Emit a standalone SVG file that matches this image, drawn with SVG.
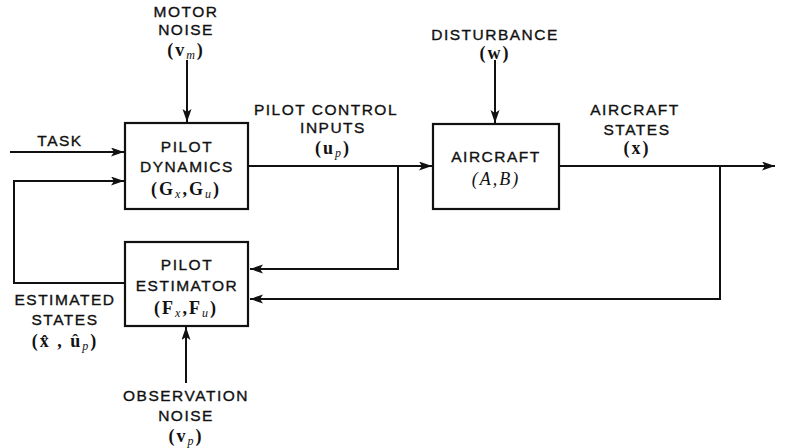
<svg xmlns="http://www.w3.org/2000/svg" width="785" height="448" viewBox="0 0 785 448">
<style>
.t{font-family:"Liberation Sans",Arial,sans-serif;font-size:15.5px;letter-spacing:1.5px;fill:#111;stroke:#111;stroke-width:0.35;text-anchor:middle}
.m{font-family:"Liberation Serif","Times New Roman",serif;font-size:18px;font-weight:bold;fill:#111;text-anchor:middle;letter-spacing:2px}
.i{font-style:italic;font-weight:normal}
.s{font-size:12px}
.box{fill:#fff;stroke:#111;stroke-width:2.2}
.c{fill:none;stroke:#111;stroke-width:2;marker-end:url(#ah)}
</style>
<defs>
<marker id="ah" markerUnits="userSpaceOnUse" markerWidth="14" markerHeight="10" refX="13" refY="4.5" orient="auto">
<path d="M0,0 L13,4.5 L0,9 L3,4.5 z" fill="#111"/>
</marker>
</defs>
<rect width="785" height="448" fill="#fff"/>
<g id="connectors">
<path class="c" d="M187,60 V122"/>
<path class="c" d="M10,152 H124"/>
<path class="c" d="M125,283 H14 V181 H124"/>
<path class="c" d="M248,166 H432"/>
<path class="c" d="M398,166 V269 H250"/>
<path class="c" d="M495,60 V123"/>
<path class="c" d="M559,166 H775"/>
<path class="c" d="M720,166 V299 H250"/>
<path class="c" d="M186,383 V327"/>
</g>
<g id="pilot-dynamics">
<rect class="box" x="125" y="123" width="123" height="86"/>
<text class="t" x="187" y="152">PILOT</text>
<text class="t" x="187" y="172">DYNAMICS</text>
<text class="m" x="186" y="195">(G<tspan class="i s" dy="3">x</tspan><tspan dy="-3">,G</tspan><tspan class="i s" dy="3">u</tspan><tspan dy="-3">)</tspan></text>
</g>
<g id="aircraft">
<rect class="box" x="433" y="124" width="126" height="85"/>
<text class="t" x="496" y="162">AIRCRAFT</text>
<text class="m" x="496" y="185"><tspan class="i">(A,B)</tspan></text>
</g>
<g id="pilot-estimator">
<rect class="box" x="125" y="242" width="123" height="84"/>
<text class="t" x="187" y="270">PILOT</text>
<text class="t" x="187" y="291">ESTIMATOR</text>
<text class="m" x="186" y="314">(F<tspan class="i s" dy="3">x</tspan><tspan dy="-3">,F</tspan><tspan class="i s" dy="3">u</tspan><tspan dy="-3">)</tspan></text>
</g>
<g id="motor-noise">
<text class="t" x="186" y="17">MOTOR</text>
<text class="t" x="186" y="35">NOISE</text>
<text class="m" x="186" y="56">(v<tspan class="i s" dy="3">m</tspan><tspan dy="-3">)</tspan></text>
</g>
<g id="task">
<text class="t" x="60" y="146">TASK</text>
</g>
<g id="pilot-control-inputs">
<text class="t" x="326" y="115">PILOT CONTROL</text>
<text class="t" x="333" y="133">INPUTS</text>
<text class="m" x="333" y="154">(u<tspan class="i s" dy="3">p</tspan><tspan dy="-3">)</tspan></text>
</g>
<g id="disturbance">
<text class="t" x="495" y="40">DISTURBANCE</text>
<text class="m" x="495" y="59">(w)</text>
</g>
<g id="aircraft-states">
<text class="t" x="635" y="115">AIRCRAFT</text>
<text class="t" x="637" y="135">STATES</text>
<text class="m" x="637" y="154">(x)</text>
</g>
<g id="estimated-states">
<text class="t" x="65" y="305">ESTIMATED</text>
<text class="t" x="65" y="325">STATES</text>
<text class="m" x="65" y="347">(x̂ , û<tspan class="i s" dy="3">p</tspan><tspan dy="-3">)</tspan></text>
</g>
<g id="observation-noise">
<text class="t" x="186" y="401">OBSERVATION</text>
<text class="t" x="186" y="421">NOISE</text>
<text class="m" x="186" y="442">(v<tspan class="i s" dy="3">p</tspan><tspan dy="-3">)</tspan></text>
</g>
</svg>
